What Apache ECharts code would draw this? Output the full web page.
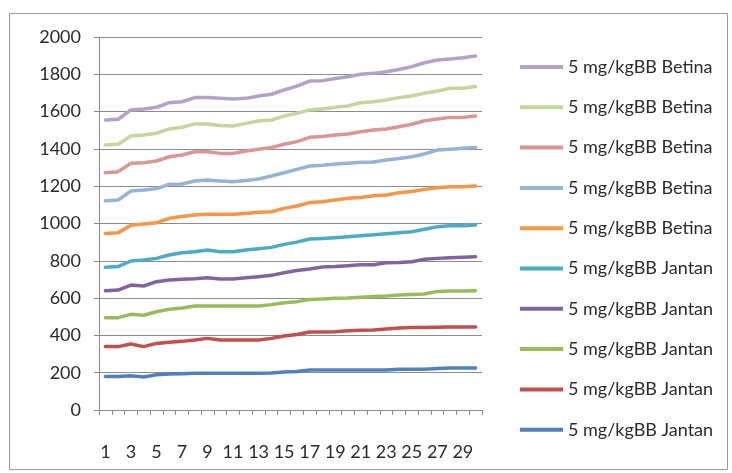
<!DOCTYPE html>
<html>
<head>
<meta charset="utf-8">
<script src="https://cdn.jsdelivr.net/npm/echarts@6/dist/echarts.min.js"></script>
<style>
  html, body { margin: 0; padding: 0; background: #ffffff; }
  #chart { width: 732px; height: 473px; }
</style>
</head>
<body>
<div id="chart"></div>
<script>
// Day numbers on the x axis
const days = ['1','2','3','4','5','6','7','8','9','10','11','12','13','14','15',
              '16','17','18','19','20','21','22','23','24','25','26','27','28','29','30'];

// Y axis range / ticks
const yTicks = [0, 200, 400, 600, 800, 1000, 1200, 1400, 1600, 1800, 2000];

// Legend texts for the two groups
const labelBetina = '5 mg/kgBB Betina';
const labelJantan = '5 mg/kgBB Jantan';

// Male group (Jantan), plotted bottom to top
const jantan1 = [179,179,184,177,189,193,195,197,197,197,197,197,197,198,204,207,214,214,214,214,214,214,215,218,218,218,222,225,225,225];
const jantan2 = [340,340,354,340,357,363,368,375,384,375,375,375,375,384,397,405,418,418,420,425,427,429,434,440,442,442,444,445,445,445];
const jantan3 = [495,495,513,508,527,540,547,558,558,558,558,558,558,565,575,581,593,595,599,600,604,608,611,617,619,622,636,638,638,640];
const jantan4 = [640,643,670,665,688,697,701,704,709,702,702,709,715,722,736,748,756,767,769,774,779,779,790,791,795,808,813,817,819,822];
const jantan5 = [765,769,799,804,813,831,843,849,858,849,849,858,865,872,888,900,917,920,924,929,934,940,945,951,956,969,983,988,988,992];

// Female group (Betina), plotted bottom to top
const betina1 = [947,951,990,997,1004,1028,1037,1046,1049,1049,1049,1054,1060,1063,1081,1094,1112,1117,1126,1135,1140,1149,1153,1165,1172,1183,1192,1197,1197,1201];
const betina2 = [1122,1126,1174,1180,1187,1210,1212,1228,1233,1228,1224,1231,1239,1255,1272,1290,1308,1312,1319,1323,1328,1330,1340,1349,1358,1373,1394,1398,1403,1408];
const betina3 = [1272,1278,1323,1326,1335,1358,1367,1385,1385,1376,1376,1389,1398,1407,1425,1439,1462,1466,1475,1480,1492,1501,1507,1519,1532,1551,1560,1569,1569,1576];
const betina4 = [1421,1425,1469,1475,1484,1507,1516,1534,1534,1525,1523,1537,1550,1555,1576,1591,1609,1614,1623,1630,1648,1653,1662,1675,1684,1698,1710,1725,1725,1734];
const betina5 = [1555,1559,1609,1614,1623,1648,1653,1675,1675,1671,1668,1671,1684,1693,1716,1737,1764,1766,1778,1787,1800,1805,1814,1826,1841,1862,1877,1882,1889,1898];

const lines = [
  { key: 'J1', label: labelJantan, data: jantan1, color: '#4F81BD' },
  { key: 'J2', label: labelJantan, data: jantan2, color: '#C0504D' },
  { key: 'J3', label: labelJantan, data: jantan3, color: '#9BBB59' },
  { key: 'J4', label: labelJantan, data: jantan4, color: '#8064A2' },
  { key: 'J5', label: labelJantan, data: jantan5, color: '#4BACC6' },
  { key: 'B1', label: labelBetina, data: betina1, color: '#F79646' },
  { key: 'B2', label: labelBetina, data: betina2, color: '#95B3D7' },
  { key: 'B3', label: labelBetina, data: betina3, color: '#D99694' },
  { key: 'B4', label: labelBetina, data: betina4, color: '#C3D69B' },
  { key: 'B5', label: labelBetina, data: betina5, color: '#B3A2C7' }
];

const labelOf = {};
lines.forEach(l => { labelOf[l.key] = l.label; });

const FONT = 'Lato';
const TEXT = '#2b2b2b';
const GRID = '#8c8c8c';

const chart = echarts.init(document.getElementById('chart'), null, { renderer: 'canvas' });

chart.setOption({
  animation: false,
  backgroundColor: '#ffffff',
  textStyle: { fontFamily: FONT },
  graphic: [{
    type: 'rect',
    shape: { x: 9.5, y: 13.5, width: 718, height: 456 },
    style: { fill: 'none', stroke: '#9a9a9a', lineWidth: 1 },
    silent: true
  }],
  grid: { left: 99, right: 250, top: 37, bottom: 63 },
  legend: {
    orient: 'vertical',
    left: 515,
    top: 53,
    icon: 'rect',
    itemWidth: 43,
    itemHeight: 4,
    itemGap: 22.3,
    data: lines.map(l => l.key).reverse(),
    formatter: name => labelOf[name],
    textStyle: { fontFamily: FONT, fontSize: 18, lineHeight: 18, color: TEXT, padding: [0, 0, 0, 0] }
  },
  xAxis: {
    type: 'category',
    data: days,
    boundaryGap: true,
    axisLine: { show: true, lineStyle: { color: GRID, width: 1 } },
    axisTick: { show: true, interval: 0, length: 5, lineStyle: { color: GRID } },
    axisLabel: { interval: 1, margin: 33, fontFamily: FONT, fontSize: 18, color: TEXT },
    splitLine: { show: false }
  },
  yAxis: {
    type: 'value',
    min: yTicks[0],
    max: yTicks[yTicks.length - 1],
    interval: yTicks[1] - yTicks[0],
    axisLine: { show: true, lineStyle: { color: GRID, width: 1 } },
    axisTick: { show: true, length: 5, lineStyle: { color: GRID } },
    axisLabel: { margin: 18, fontFamily: FONT, fontSize: 18, color: TEXT, formatter: v => String(v) },
    splitLine: { show: true, lineStyle: { color: GRID, width: 1 } }
  },
  series: lines.map((l, i) => ({
    name: l.key,
    type: 'line',
    data: l.data,
    symbol: 'none',
    smooth: false,
    z: 2 + i,
    color: l.color,
    lineStyle: { color: l.color, width: 3.5, cap: 'round', join: 'round' }
  }))
});
</script>
</body>
</html>
